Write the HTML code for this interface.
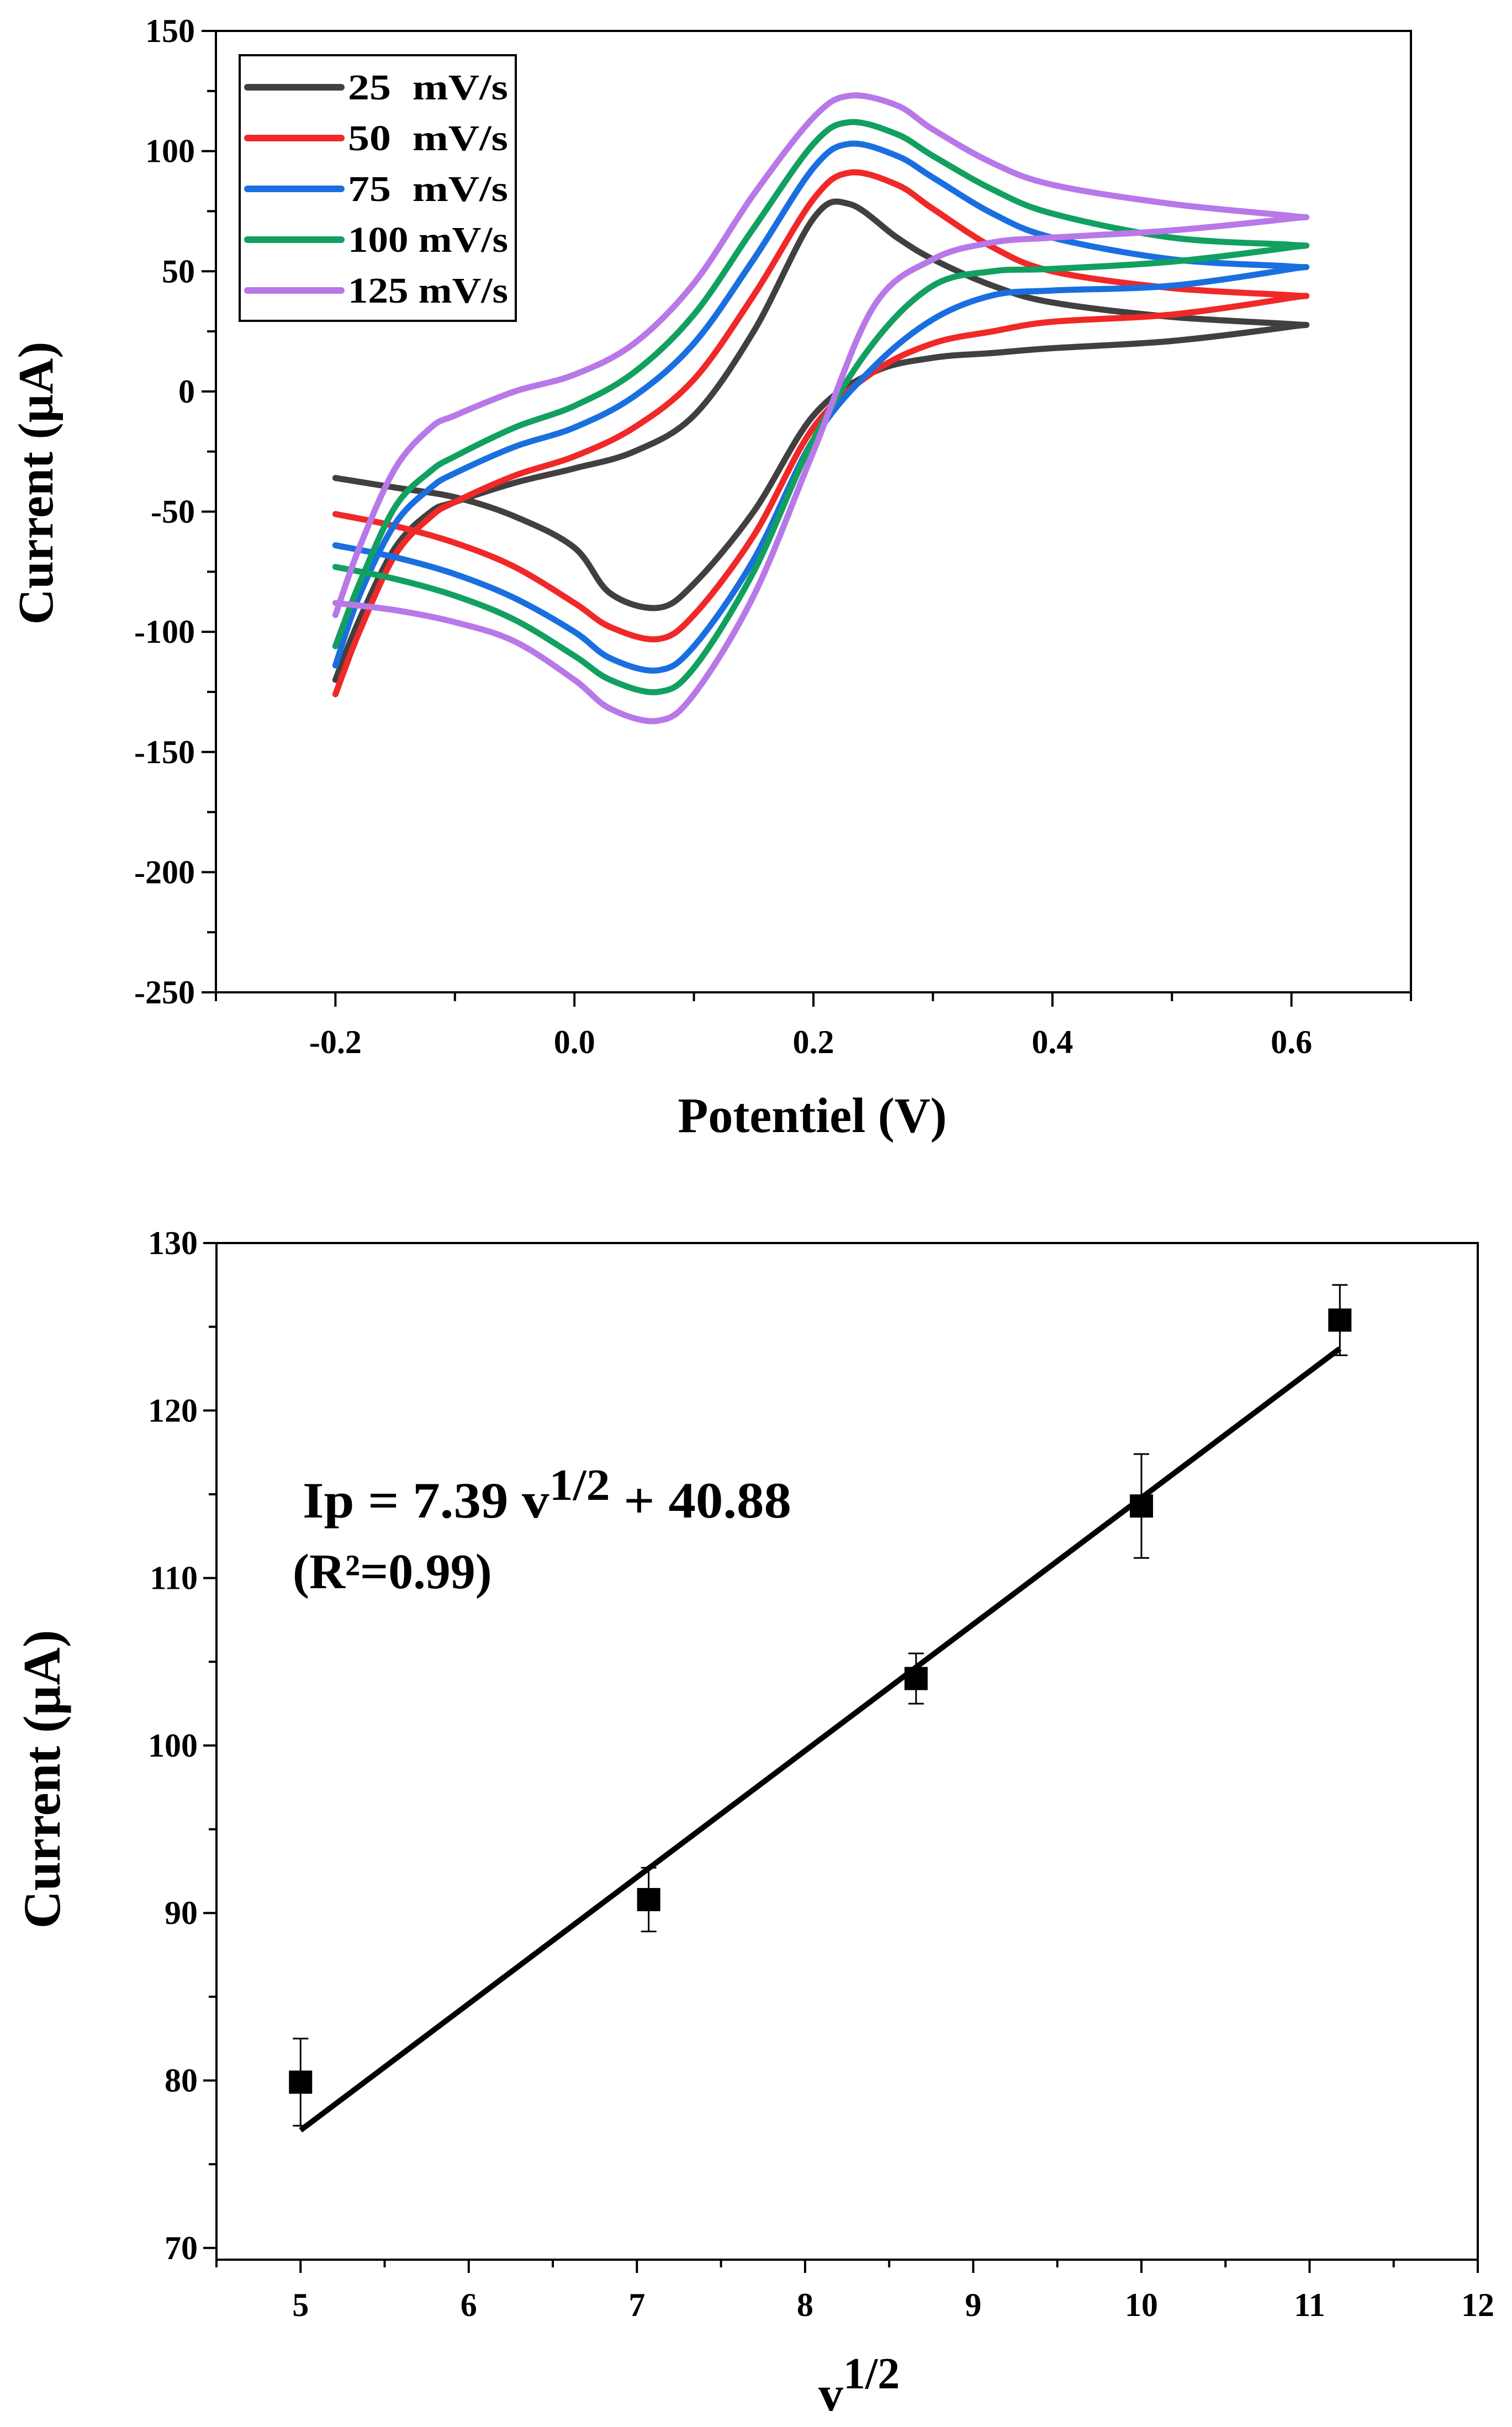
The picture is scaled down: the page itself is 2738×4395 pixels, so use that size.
<!DOCTYPE html>
<html><head><meta charset="utf-8"><style>
html,body{margin:0;padding:0;background:#fff;}
svg{display:block;font-family:"Liberation Serif",serif;font-weight:bold;}
</style></head><body>
<svg id="fig" width="2738" height="4395" viewBox="0 0 2738 4395" xmlns="http://www.w3.org/2000/svg">
<g id="top"></g>
<g id="bot"></g>
</svg>
<script>
// ---- CV chart data ----
const seriesNames = ["25  mV/s","50  mV/s","75  mV/s","100 mV/s","125 mV/s"];
const seriesColors = ["#404040","#f02828","#1a6fe0","#12a060","#b878e8"];
const fwdE = [-0.2,-0.18,-0.15,-0.12,-0.1,-0.05,0,0.05,0.1,0.15,0.2,0.23,0.27,0.3,0.35,0.4,0.5,0.6];
const revE = [0.6,0.5,0.4,0.35,0.3,0.25,0.2,0.15,0.1,0.07,0.03,0,-0.05,-0.1,-0.15,-0.2];
const fwd25 = [-120,-95,-65,-50,-46,-38,-32,-25,-10,25,72,78,64,55,44,37,31,28];
const rev25 = [27,21,18,16,14,8,-10,-50,-80,-90,-84,-65,-52,-44,-40,-36];
const fwd50 = [-126,-100,-68,-52,-46,-35,-27,-15,5,40,80,91,86,76,60,50,43,40];
const rev50 = [39,32,29,25,20,8,-15,-60,-93,-103,-98,-88,-73,-63,-56,-51];
const fwd75 = [-114,-85,-55,-40,-34,-23,-15,-2,20,55,93,103,98,89,74,64,55,52];
const rev75 = [51,44,42,40,30,10,-20,-70,-106,-116,-111,-100,-86,-76,-69,-64];
const fwd100 = [-106,-80,-48,-33,-27,-15,-6,8,32,68,103,112,107,98,84,74,64,61];
const rev100 = [60,54,51,50,44,20,-20,-75,-115,-125,-120,-110,-95,-85,-78,-73];
const fwd125 = [-93,-65,-32,-15,-10,0,7,20,45,82,114,123,119,109,95,86,78,73];
const rev125 = [72,67,64,62,55,35,-25,-85,-126,-137,-132,-120,-104,-96,-91,-88];
const fwdAll = [fwd25,fwd50,fwd75,fwd100,fwd125];
const revAll = [rev25,rev50,rev75,rev100,rev125];
const xTicksTop = [-0.2,0.0,0.2,0.4,0.6];
const xTickLabelsTop = ["-0.2","0.0","0.2","0.4","0.6"];
const yTicksTop = [150,100,50,0,-50,-100,-150,-200,-250];
// ---- linear fit chart data ----
const sqrtV = [5,7.07,8.66,10,11.18];
const ipVals = [79.9,90.8,104,114.3,125.4];
const ipErr = [2.6,1.9,1.5,3.1,2.1];
const fitSlope = 7.39, fitIntercept = 40.88;
const xTicksBot = [5,6,7,8,9,10,11,12];
const yTicksBot = [70,80,90,100,110,120,130];

const NS="http://www.w3.org/2000/svg";
function mk(parent,tag,attrs,text){const e=document.createElementNS(NS,tag);for(const k in attrs)e.setAttribute(k,attrs[k]);if(text!==undefined)e.textContent=text;parent.appendChild(e);return e;}
function smooth(pts){let d=`M${pts[0][0]},${pts[0][1]}`;for(let i=0;i<pts.length-1;i++){const p0=pts[Math.max(0,i-1)],p1=pts[i],p2=pts[i+1],p3=pts[Math.min(pts.length-1,i+2)];const c1=[p1[0]+(p2[0]-p0[0])/6,p1[1]+(p2[1]-p0[1])/6],c2=[p2[0]-(p3[0]-p1[0])/6,p2[1]-(p3[1]-p1[1])/6];d+=`C${c1[0]},${c1[1]} ${c2[0]},${c2[1]} ${p2[0]},${p2[1]}`;}return d;}

// ===== Top chart =====
const T=document.getElementById('top');
const L1=391,R1=2555,T1=56,B1=1797;
const sx1=v=>L1+(v+0.3)/1.0*(R1-L1);
const sy1=v=>T1+(150-v)/400*(B1-T1);
for(let s=0;s<5;s++){
  const pts=fwdE.map((e,i)=>[sx1(e),sy1(fwdAll[s][i])]).concat(revE.map((e,i)=>[sx1(e),sy1(revAll[s][i])]));
  const p=mk(T,'path',{d:smooth(pts),fill:'none',stroke:seriesColors[s],'stroke-width':11,'stroke-linejoin':'round','stroke-linecap':'round'});
  
  
}
const fr1=mk(T,'rect',{x:L1,y:T1,width:R1-L1,height:B1-T1,fill:'none',stroke:'#000','stroke-width':4});


for(let v=-0.3;v<=0.701;v+=0.1){const x=sx1(v);const major=Math.abs(Math.round(v*10)%2)===0;mk(T,'line',{x1:x,y1:B1,x2:x,y2:B1+(major?26:16),stroke:'#000','stroke-width':4});}
xTicksTop.forEach((v,i)=>{const t=mk(T,'text',{x:sx1(v),y:B1+110,'font-size':60,'text-anchor':'middle'},xTickLabelsTop[i]);
  
  });
for(let v=150;v>=-250;v-=25){const y=sy1(v);const major=v%50===0;mk(T,'line',{x1:L1,y1:y,x2:L1-(major?26:16),y2:y,stroke:'#000','stroke-width':4});}
yTicksTop.forEach(v=>{const t=mk(T,'text',{x:L1-38,y:sy1(v)+20,'font-size':60,'text-anchor':'end'},String(v));
  
  });
const xt1=mk(T,'text',{x:1471,y:2050,'font-size':90,'text-anchor':'middle'},'Potentiel (V)');


const yt1=mk(T,'text',{x:0,y:0,'font-size':90,'text-anchor':'middle',transform:'translate(95,875) rotate(-90)'},'Current (µA)');


const lg=mk(T,'g',{});


mk(lg,'rect',{x:434,y:100,width:500,height:481,fill:'#fff',stroke:'#000','stroke-width':4});
seriesNames.forEach((n,i)=>{const y=158+i*92;
  mk(lg,'line',{x1:448,y1:y,x2:618,y2:y,stroke:seriesColors[i],'stroke-width':12,'stroke-linecap':'round'});
  const t=mk(lg,'text',{x:630,y:y+22,'font-size':66,textLength:290,lengthAdjust:'spacingAndGlyphs'},n.replace('  ','\u00a0\u00a0'));
  
  });

// ===== Bottom chart =====
const B=document.getElementById('bot');
const L2=392,R2=2676,T2=2251,B2=4092;
const sx2=v=>L2+(v-4.5)/7.5*(R2-L2);
const sy2=v=>T2+(130-v)*30.33;
const fr2=mk(B,'rect',{x:L2,y:T2,width:R2-L2,height:B2-T2,fill:'none',stroke:'#000','stroke-width':4});


for(let v=4.5;v<=12.01;v+=0.5){const x=sx2(v);const major=Math.abs(v-Math.round(v))<0.01;mk(B,'line',{x1:x,y1:B2,x2:x,y2:B2+(major?24:14),stroke:'#000','stroke-width':4});}
xTicksBot.forEach(v=>{const t=mk(B,'text',{x:sx2(v),y:B2+102,'font-size':60,'text-anchor':'middle'},String(v));
  
  });
for(let v=70;v<=130;v+=5){const y=sy2(v);const major=v%10===0;mk(B,'line',{x1:L2,y1:y,x2:L2-(major?24:14),y2:y,stroke:'#000','stroke-width':4});}
yTicksBot.forEach(v=>{const t=mk(B,'text',{x:L2-34,y:sy2(v)+20,'font-size':60,'text-anchor':'end'},String(v));
  
  });
const fit=mk(B,'line',{x1:sx2(sqrtV[0]),y1:sy2(fitSlope*sqrtV[0]+fitIntercept-0.8),x2:sx2(sqrtV[4]),y2:sy2(fitSlope*sqrtV[4]+fitIntercept+0.2),stroke:'#000','stroke-width':10});


sqrtV.forEach((v,i)=>{const x=sx2(v),y=sy2(ipVals[i]);
  const g=mk(B,'g',{});
  
  
  const yt=sy2(ipVals[i]+ipErr[i]),yb=sy2(ipVals[i]-ipErr[i]);
  mk(g,'line',{x1:x,y1:yt,x2:x,y2:yb,stroke:'#000','stroke-width':3});
  mk(g,'line',{x1:x-14,y1:yt,x2:x+14,y2:yt,stroke:'#000','stroke-width':3});
  mk(g,'line',{x1:x-14,y1:yb,x2:x+14,y2:yb,stroke:'#000','stroke-width':3});
  mk(g,'rect',{x:x-21,y:y-21,width:42,height:42,fill:'#000'});});
const eq=mk(B,'text',{x:548,y:2748,'font-size':92,textLength:885,lengthAdjust:'spacingAndGlyphs'},'');


mk(eq,'tspan',{},'Ip = 7.39 v');
mk(eq,'tspan',{dy:-32,'font-size':80},'1/2');
mk(eq,'tspan',{dy:32},' + 40.88');
const r2=mk(B,'text',{x:530,y:2876,'font-size':90},'(R²=0.99)');


const xt2=mk(B,'text',{x:1482,y:4365,'font-size':90,'text-anchor':'start'},'');


mk(xt2,'tspan',{},'v');
mk(xt2,'tspan',{dy:-40,'font-size':80},'1/2');
const yt2=mk(B,'text',{x:0,y:0,'font-size':95,'text-anchor':'middle',transform:'translate(108,3222) rotate(-90)'},'Current (µA)');


</script>
</body></html>
